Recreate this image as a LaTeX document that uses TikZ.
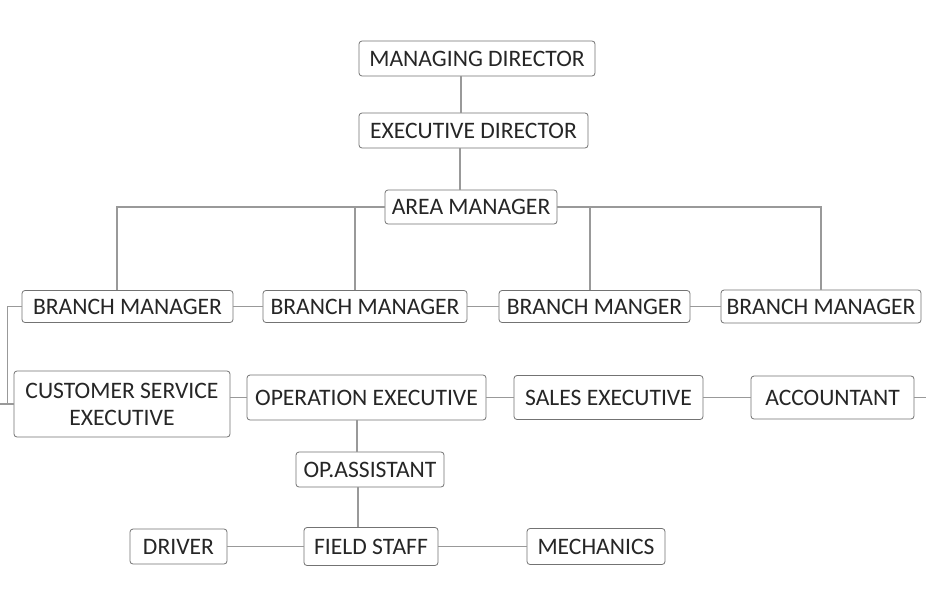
\documentclass[tikz,border=0pt]{standalone}
\usepackage{fontspec}
\setmainfont{Carlito}
\tikzset{
    role/.style = {draw = black!55, fill = white, rounded corners = 1.5pt, inner sep = 0pt,
        align = center, text = black!85, font = \fontsize{11.8}{13.5}\selectfont},
    link/.style = {draw = black!40, line width = .7pt}
}
\begin{document}
\begin{tikzpicture}[x = .5pt, y = -.5pt]
            \useasboundingbox [fill = white] (0,0) rectangle (926,605);

            % Draw the directors:
            \node [role, minimum width = 118pt, minimum height = 17.5pt] (MD) at (477,58.5) {MANAGING DIRECTOR};
            \node [role, minimum width = 114.5pt, minimum height = 17.5pt] (ED) at (473.5,130.5) {EXECUTIVE DIRECTOR};
            \node [role, minimum width = 86pt, minimum height = 17pt] (AM) at (471,207) {AREA MANAGER};

            % Draw the branch managers:
            \node [role, minimum width = 105.5pt, minimum height = 16pt] (BM1) at (127.5,306.5) {BRANCH MANAGER};
            \node [role, minimum width = 102pt, minimum height = 16pt] (BM2) at (365,306.5) {BRANCH MANAGER};
            \node [role, minimum width = 95.5pt, minimum height = 16pt] (BM3) at (594.5,306.5) {BRANCH MANGER};
            \node [role, minimum width = 100pt, minimum height = 16.5pt] (BM4) at (821,306.5) {BRANCH MANAGER};

            % Draw the branch staff:
            \node [role, minimum width = 108pt, minimum height = 33pt] (CSE) at (122,404) {CUSTOMER SERVICE\\EXECUTIVE};
            \node [role, minimum width = 119.5pt, minimum height = 22.5pt] (OE) at (366.5,397.5) {OPERATION EXECUTIVE};
            \node [role, minimum width = 94.5pt, minimum height = 22pt] (SE) at (608.5,397.5) {SALES EXECUTIVE};
            \node [role, minimum width = 81.5pt, minimum height = 21.5pt] (ACC) at (832.5,397.5) {ACCOUNTANT};
            \node [role, minimum width = 74pt, minimum height = 17.5pt] (OPA) at (370,469.5) {OP.ASSISTANT};
            \node [role, minimum width = 67pt, minimum height = 19pt] (FS) at (371,546.5) {FIELD STAFF};
            \node [role, minimum width = 48.5pt, minimum height = 17.5pt] (DRV) at (178.5,546.5) {DRIVER};
            \node [role, minimum width = 69pt, minimum height = 18pt] (MECH) at (596,546.5) {MECHANICS};

            \coordinate (EdgeL) at (CSE.west -| 0,0);
            \coordinate (EdgeR) at (ACC.east -| 926,0);

            % Draw the links:
            \draw [link] (MD.south -| 461,0) -- (ED.north -| 461,0);
            \draw [link] (ED.south -| 460,0) -- (AM.north -| 460,0);
            \draw [link] (AM.west) -| ([xshift = -5.25pt]BM1.north);
            \draw [link] (AM.west) -| ([xshift = -5pt]BM2.north);
            \draw [link] (AM.east) -| ([xshift = -2.25pt]BM3.north);
            \draw [link] (AM.east) -| (BM4.north);
            \foreach \from/\to in {BM1/BM2, BM2/BM3, BM3/BM4, OE/SE, SE/ACC, DRV/FS, FS/MECH}
                \draw [link] (\from.east) -- (\to.west);
            \draw [link] (BM1.west) -- ++(-14,0) |- (CSE.west);
            \draw [link] (EdgeL) -- (CSE.west);
            \draw [link] (OE.west -| CSE.east) -- (OE.west);
            \draw [link] (ACC.east) -- (EdgeR);
            \draw [link] (OE.south -| 357,0) -- (OPA.north -| 357,0);
            \draw [link] (OPA.south -| 358,0) -- (FS.north -| 358,0);
        \end{tikzpicture}
\end{document}
